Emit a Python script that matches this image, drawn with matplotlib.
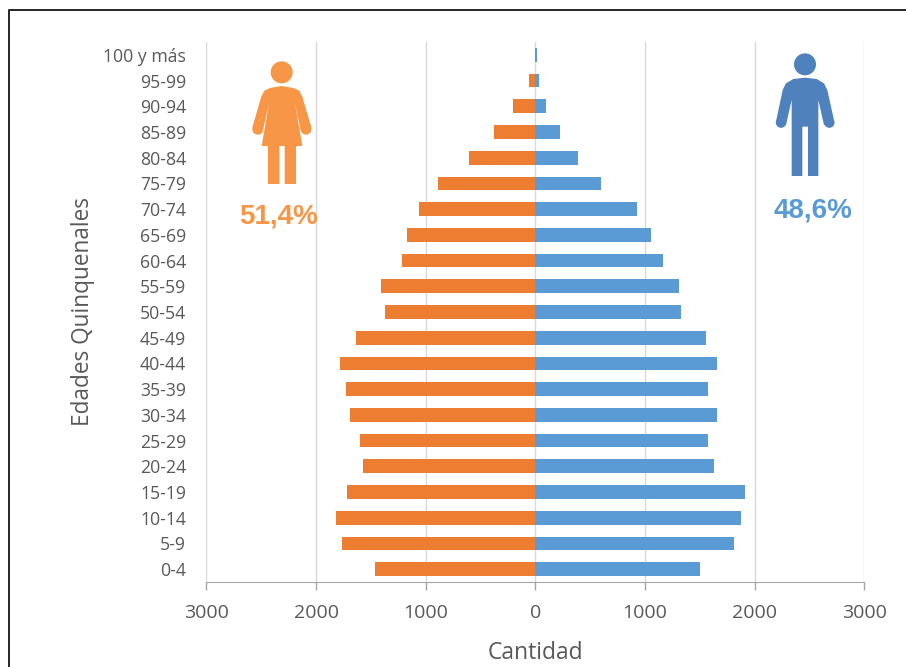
import matplotlib
matplotlib.use("Agg")
import matplotlib.pyplot as plt
from matplotlib.patches import Polygon, Circle
from matplotlib.lines import Line2D
from matplotlib.transforms import Affine2D

W, H = 906, 667
ages = ["0-4","5-9","10-14","15-19","20-24","25-29","30-34","35-39","40-44","45-49","50-54",
        "55-59","60-64","65-69","70-74","75-79","80-84","85-89","90-94","95-99","100 y más"]
women = [1460,1760,1815,1715,1570,1595,1695,1725,1785,1640,1375,1405,1220,1175,1065,885,610,375,200,60,4]
men = [1505,1815,1875,1915,1630,1575,1660,1575,1660,1560,1330,1305,1165,1055,930,600,390,220,95,30,15]
ticks = [-3000,-2000,-1000,0,1000,2000,3000]
tick_labels = ["3000","2000","1000","0","1000","2000","3000"]

ORANGE = "#ED7D31"
BLUE = "#5B9BD5"
ICON_O = "#F79646"
ICON_B = "#4F81BD"
TXT = "#595959"
plt.rcParams["font.family"] = ["Open Sans", "DejaVu Sans"]

fig = plt.figure(figsize=(W/100, H/100), dpi=100, facecolor="white")
ax = fig.add_axes([206.4/W, 1-582/H, 658/W, 540/H])
y = list(range(len(ages)))
ax.barh(y, [-v for v in women], height=0.53, color=ORANGE, zorder=3)
ax.barh(y, men, height=0.53, color=BLUE, zorder=3)
ax.set_xlim(-3000, 3000)
ax.set_ylim(-0.5, 20.5)
ax.set_xticks(ticks)
ax.set_xticklabels(tick_labels, fontsize=14, color=TXT)
ax.set_yticks(y)
ax.set_yticklabels(ages, fontsize=12.7, color=TXT)
ax.grid(axis="x", color="#D9D9D9", linewidth=1, zorder=0)
ax.set_axisbelow(True)
for s in ["top", "right", "left"]:
    ax.spines[s].set_visible(False)
ax.spines["bottom"].set_color("#A6A6A6")
ax.tick_params(axis="x", length=6, color="#A6A6A6", pad=10, width=1)
ax.tick_params(axis="y", length=0, pad=14.5)
fig.text(535/W, 1-653/H, "Cantidad", fontsize=16.5, color=TXT, ha="center", va="center")
fig.text(83/W, 1-312/H, "Edades Quinquenales", rotation=90, fontsize=16.3, color=TXT, ha="center", va="center")

# icons: points are in zoomed-crop coordinates, converted to figure pixels
def icon(x0, y0, pts, head, hands, r, color):
    t = Affine2D().scale(1/3, -1/3).translate(x0, H - y0)
    fig.add_artist(Polygon(pts, closed=True, transform=t, facecolor=color, edgecolor="none", zorder=5))
    fig.add_artist(Circle(head, 33, transform=t, facecolor=color, edgecolor="none", zorder=5))
    for h in hands:
        fig.add_artist(Circle(h, r, transform=t, facecolor=color, edgecolor="none", zorder=5))

woman = [(150,144),(185,138),(220,144),(238,152),(247,170),(274,262),(243,275),(225,190),(247,318),(228,318),(228,432),
         (194,432),(194,318),(178,318),(178,432),(144,432),(144,318),(125,318),(147,190),(128,275),(97,262),(124,170),(133,152)]
man = [(165,113),(200,117),(222,130),(232,150),(253,245),(222,255),(205,180),(205,408),(174,408),(174,260),(157,260),
       (157,408),(125,408),(125,180),(108,255),(78,245),(98,150),(108,130),(130,117)]
icon(220, 40, woman, (185,97), [(113,268),(258,268)], 16, ICON_O)
icon(750, 40, man, (165,73), [(93,248),(238,248)], 15.5, ICON_B)

fig.text(278.5/W, 1-217/H, "51,4%", fontsize=20, fontweight="bold", color=ICON_O, family="Liberation Sans", ha="center", va="center", zorder=6)
fig.text(813.5/W, 1-210.5/H, "48,6%", fontsize=20, fontweight="bold", color=BLUE, family="Liberation Sans", ha="center", va="center", zorder=6)

# outer frame: top and left edges only
fig.add_artist(Line2D([9/W, 9/W, 1], [0, 1-10/H, 1-10/H], transform=fig.transFigure, color="#262626", linewidth=1.4))
fig.savefig("out.png", dpi=100)
